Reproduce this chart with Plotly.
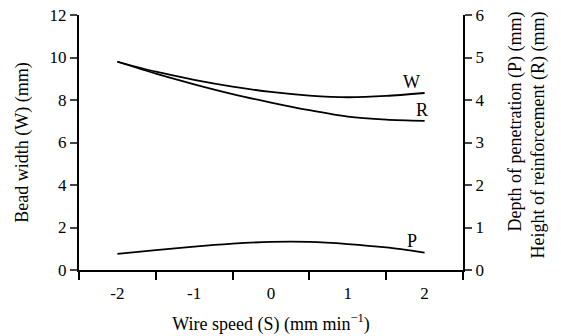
import plotly.graph_objects as go

speed = [-2, -1.5, -1, -0.5, 0, 0.5, 1, 1.5, 2]
bead_width_W = [9.80, 9.33, 8.95, 8.63, 8.38, 8.21, 8.13, 8.19, 8.33]
reinforcement_R = [4.90, 4.62, 4.37, 4.14, 3.94, 3.76, 3.61, 3.54, 3.51]
penetration_P = [0.38, 0.47, 0.55, 0.62, 0.66, 0.66, 0.61, 0.53, 0.41]

x_labels = [-2, -1, 0, 1, 2]
x_minor = [-2.5, -1.5, -0.5, 0.5, 1.5, 2.5]

FONT = "Liberation Serif, Times New Roman, serif"
TICK = 17
TITLE = 18
line = dict(color="black", width=1.8, shape="spline", smoothing=0.8)

fig = go.Figure()
fig.add_trace(go.Scatter(x=speed, y=bead_width_W, mode="lines", line=line, yaxis="y", showlegend=False))
fig.add_trace(go.Scatter(x=speed, y=reinforcement_R, mode="lines", line=line, yaxis="y2", showlegend=False))
fig.add_trace(go.Scatter(x=speed, y=penetration_P, mode="lines", line=line, yaxis="y2", showlegend=False))

fig.update_layout(
    width=561, height=336,
    margin=dict(l=79, r=98, t=15, b=66),
    paper_bgcolor="white", plot_bgcolor="white",
    font=dict(family=FONT, size=TICK, color="black"),
    xaxis=dict(
        range=[-2.5, 2.5], tickmode="array", tickvals=x_labels,
        ticktext=[str(v) for v in x_labels],
        ticks="outside", ticklen=7, tickcolor="rgba(0,0,0,0)",
        tickfont=dict(family=FONT, size=TICK),
        minor=dict(tickmode="array", tickvals=x_minor, ticks="outside",
                   ticklen=8, tickwidth=2, tickcolor="black"),
        showline=True, linecolor="black", linewidth=2,
        showgrid=False, zeroline=False, automargin=False,
        title=dict(text="Wire speed (S) (mm min<sup>\u22121</sup>)", standoff=15,
                   font=dict(family=FONT, size=TITLE)),
    ),
    yaxis=dict(
        range=[0, 12], dtick=2, ticks="outside", ticklen=7, tickwidth=2,
        tickfont=dict(family=FONT, size=TICK),
        showline=True, linecolor="black", linewidth=2,
        showgrid=False, zeroline=False, automargin=False,
        title=dict(text="Bead width (W) (mm)", standoff=16,
                   font=dict(family=FONT, size=TITLE)),
    ),
    yaxis2=dict(
        range=[0, 6], dtick=1, ticks="outside", ticklen=7, tickwidth=2,
        tickfont=dict(family=FONT, size=TICK),
        overlaying="y", side="right",
        showline=True, linecolor="black", linewidth=2,
        showgrid=False, zeroline=False, automargin=False,
    ),
)

plot_w = 561 - 79 - 98
plot_h = 270 - 15
fig.add_annotation(
    x=(526 - 79) / plot_w, y=(270 - 10) / plot_h, xref="paper", yref="paper",
    xanchor="center", yanchor="top", align="right", showarrow=False,
    text="Depth of penetration (P) (mm)<br>Height of reinforcement (R) (mm)",
    textangle=-90, font=dict(family=FONT, size=TITLE),
)

for txt, xx, yy in [("W", 1.83, 8.86), ("R", 1.96, 7.53), ("P", 1.83, 1.38)]:
    fig.add_annotation(x=xx, y=yy, xref="x", yref="y", text=txt, showarrow=False,
                       font=dict(family=FONT, size=TITLE))

fig.write_html("out.html")
